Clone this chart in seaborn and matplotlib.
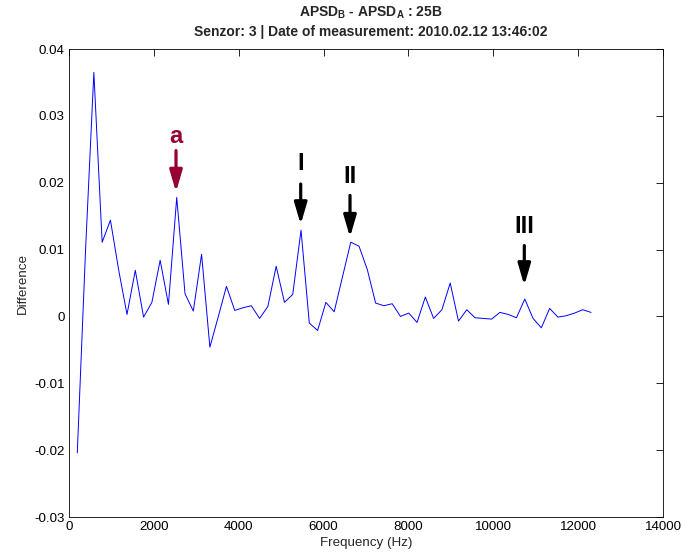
import numpy as np
import pandas as pd
import matplotlib
matplotlib.use("Agg")
import matplotlib.pyplot as plt
import seaborn as sns

# FFT bin frequencies (Hz) and APSD difference values
freqs = [195.3, 390.6, 585.9, 781.3, 976.6, 1171.9, 1367.2, 1562.5, 1757.8,
         1953.1, 2148.4, 2343.8, 2539.1, 2734.4, 2929.7, 3125.0, 3320.3,
         3515.6, 3710.9, 3906.3, 4101.6, 4296.9, 4492.2, 4687.5, 4882.8,
         5078.1, 5273.4, 5468.8, 5664.1, 5859.4, 6054.7, 6250.0, 6445.3,
         6640.6, 6835.9, 7031.3, 7226.6, 7421.9, 7617.2, 7812.5, 8007.8,
         8203.1, 8398.4, 8593.8, 8789.1, 8984.4, 9179.7, 9375.0, 9570.3,
         9765.6, 9960.9, 10156.3, 10351.6, 10546.9, 10742.2, 10937.5,
         11132.8, 11328.1, 11523.4, 11718.8, 11914.1, 12109.4, 12304.7]
diff = [-0.0204, 0.0100, 0.0365, 0.0111, 0.0144, 0.0069, 0.0003, 0.0069,
        -0.0001, 0.0021, 0.0084, 0.0018, 0.0178, 0.0034, 0.0008, 0.0093,
        -0.0046, -0.0001, 0.0045, 0.0009, 0.0013, 0.0016, -0.0003, 0.0015,
        0.0075, 0.0021, 0.0033, 0.0129, -0.0010, -0.0021, 0.0021, 0.0007,
        0.0059, 0.0111, 0.0105, 0.0070, 0.0020, 0.0016, 0.0019, 0.0000,
        0.0005, -0.0009, 0.0029, -0.0003, 0.0010, 0.0050, -0.0007, 0.0010,
        -0.0002, -0.0003, -0.0004, 0.0006, 0.0003, -0.0002, 0.0026, -0.0003,
        -0.0017, 0.0012, -0.0001, 0.0001, 0.0005, 0.0010, 0.0006]

# peak markers: label, frequency, arrow tip, arrow tail, label y, colour
marker_labels = ["a", "I", "II", "III"]
marker_freqs = [2522, 5461, 6623, 10731]
marker_tips = [0.0186, 0.01375, 0.01185, 0.00463]
marker_tails = [0.0248, 0.0198, 0.0181, 0.0106]
marker_text_y = [0.0269, 0.0228, 0.0209, 0.01345]
marker_colors = ["#960032", "black", "black", "black"]

xticks = [0, 2000, 4000, 6000, 8000, 10000, 12000, 14000]
yticks = [-0.03, -0.02, -0.01, 0, 0.01, 0.02, 0.03, 0.04]
ytick_labels = ["-0.03", "-0.02", "-0.01", "0", "0.01", "0.02", "0.03", "0.04"]

sns.set_style("white")
plt.rcParams["font.family"] = ["Liberation Sans", "DejaVu Sans"]
plt.rcParams["mathtext.fontset"] = "custom"
plt.rcParams["mathtext.rm"] = "Liberation Sans:bold"
plt.rcParams["mathtext.it"] = "Liberation Sans:bold"
plt.rcParams["mathtext.bf"] = "Liberation Sans:bold"
plt.rcParams["mathtext.default"] = "bf"

df = pd.DataFrame({"Frequency": freqs, "Difference": diff})

fig = plt.figure(figsize=(6.82, 5.58), dpi=100)
ax = fig.add_axes([69 / 682, 1 - 517 / 558, 594 / 682, 468 / 558])

sns.lineplot(data=df, x="Frequency", y="Difference", color="blue",
             linewidth=0.7, ax=ax)

for lab, fx, tip, tail, ty, col in zip(marker_labels, marker_freqs, marker_tips,
                                       marker_tails, marker_text_y, marker_colors):
    ax.annotate("", xy=(fx, tip), xytext=(fx, tail),
                arrowprops=dict(arrowstyle="-|>,head_length=1.3,head_width=0.38",
                                color=col, lw=2.3, shrinkA=0, shrinkB=0,
                                mutation_scale=10))
    ax.text(fx, ty, lab, color=col, fontsize=17, fontweight="bold",
            ha="center", va="center")

ax.set_xlim(0, 14000)
ax.set_ylim(-0.03, 0.04)
ax.set_xticks(xticks)
ax.set_xticklabels([str(t) for t in xticks])
ax.set_yticks(yticks)
ax.set_yticklabels(ytick_labels)
ax.tick_params(direction="in", length=5, width=0.6, top=True, right=True,
               labelsize=9.6, colors="black", pad=3)
for sp in ax.spines.values():
    sp.set_visible(True)
    sp.set_color("black")
    sp.set_linewidth(0.6)

ax.set_xlabel("Frequency (Hz)", fontsize=9.6, labelpad=3)
ax.set_ylabel("Difference", fontsize=9.6, labelpad=4)

fig.text(371 / 682, 1 - 13 / 558, r"APSD$_{B}$ - APSD$_{A}$ : 25B",
         ha="center", va="center", fontsize=10, fontweight="bold")
fig.text(371 / 682, 1 - 32 / 558,
         "Senzor: 3 | Date of measurement: 2010.02.12 13:46:02",
         ha="center", va="center", fontsize=10, fontweight="bold")

fig.savefig("out.png", dpi=100)
